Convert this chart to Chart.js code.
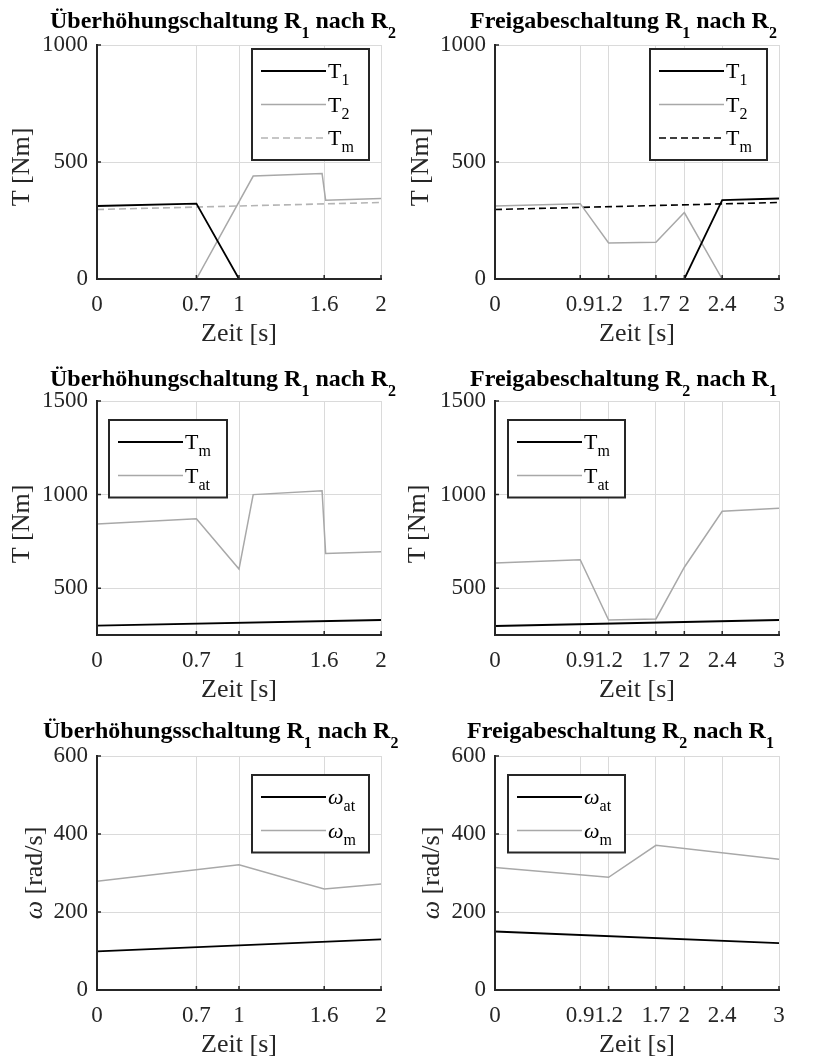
<!DOCTYPE html>
<html><head><meta charset="utf-8">
<script src="https://cdn.jsdelivr.net/npm/chart.js"></script>
<style>
html,body{margin:0;padding:0;background:#fff;width:813px;height:1060px;overflow:hidden}
canvas{position:absolute}
</style></head><body>
<canvas id="c1" style="left:0px;top:0px" width="406" height="349"></canvas>
<canvas id="c2" style="left:406px;top:0px" width="407" height="349"></canvas>
<canvas id="c3" style="left:0px;top:356px" width="406" height="349"></canvas>
<canvas id="c4" style="left:406px;top:356px" width="407" height="349"></canvas>
<canvas id="c5" style="left:0px;top:711px" width="406" height="349"></canvas>
<canvas id="c6" style="left:406px;top:711px" width="407" height="349"></canvas>
<script>
// ---------- tick values ----------
const xTicksA = [0, 0.7, 1, 1.6, 2];
const xTicksB = [0, 0.9, 1.2, 1.7, 2, 2.4, 3];
const yTicksT = [0, 500, 1000];
const yTicksTat = [500, 1000, 1500];
const yTicksW = [0, 200, 400, 600];

// ---------- plot 1: Überhöhungschaltung R1 nach R2 (T) ----------
const p1T1x = [0, 0.7, 1.0, 2.0];
const p1T1y = [312, 322, 0, 0];
const p1T2x = [0, 0.7, 1.1, 1.585, 1.61, 2.0];
const p1T2y = [0, 0, 440, 451, 337, 344];
const p1Tmx = [0, 2.0];
const p1Tmy = [297, 327];

// ---------- plot 2: Freigabeschaltung R1 nach R2 (T) ----------
const p2T1x = [0, 2.0, 2.4, 3.0];
const p2T1y = [0, 0, 337, 344];
const p2T2x = [0, 0.9, 1.2, 1.7, 2.0, 2.4, 3.0];
const p2T2y = [312, 322, 154, 157, 284, 0, 0];
const p2Tmx = [0, 3.0];
const p2Tmy = [297, 327];

// ---------- plot 3: Überhöhungschaltung R1 nach R2 (Tm, Tat) ----------
const p3Tmx = [0, 2.0];
const p3Tmy = [300, 330];
const p3Tatx = [0, 0.7, 1.0, 1.1, 1.585, 1.61, 2.0];
const p3Taty = [843, 871, 602, 1000, 1021, 686, 695];

// ---------- plot 4: Freigabeschaltung R2 nach R1 (Tm, Tat) ----------
const p4Tmx = [0, 3.0];
const p4Tmy = [298, 330];
const p4Tatx = [0, 0.9, 1.2, 1.7, 2.0, 2.4, 3.0];
const p4Taty = [634, 652, 330, 336, 612, 911, 927];

// ---------- plot 5: Überhöhungsschaltung R1 nach R2 (omega) ----------
const p5Watx = [0, 2.0];
const p5Waty = [99, 130];
const p5Wmx = [0, 1.0, 1.6, 2.0];
const p5Wmy = [279, 321, 259, 272];

// ---------- plot 6: Freigabeschaltung R2 nach R1 (omega) ----------
const p6Watx = [0, 3.0];
const p6Waty = [150, 120];
const p6Wmx = [0, 1.2, 1.7, 3.0];
const p6Wmy = [314, 289, 371, 335];

const FAM = '"Liberation Serif", "Times New Roman", serif';
Chart.defaults.font.family = FAM;
const GRAY = '#a8a8a8';
const AX = '#262626';

const titleBase = {size: 24, sub: 16, subDy: 10, bold: true};
const axisBase = {size: 26, sub: 18, subDy: 8, bold: false};
const legBase = {size: 22, sub: 16, subDy: 7, bold: false};

function segFont(s, b) {
  return (s.italic ? 'italic ' : '') + (b.bold ? 'bold ' : '') + (s.sub ? b.sub : b.size) + 'px ' + FAM;
}
function richWidth(ctx, segs, b) {
  let w = 0;
  for (const s of segs) { ctx.font = segFont(s, b); w += ctx.measureText(s.t).width; }
  return w;
}
function drawRich(ctx, segs, x, y, b) {
  ctx.textAlign = 'left'; ctx.textBaseline = 'alphabetic';
  for (const s of segs) {
    ctx.font = segFont(s, b);
    ctx.fillText(s.t, x, y + (s.sub ? b.subDy : 0));
    x += ctx.measureText(s.t).width;
  }
}

const deco = {
  id: 'deco',
  afterDatasetsDraw(chart) {
    const o = chart.options.plugins.deco;
    const ctx = chart.ctx, a = chart.chartArea;
    const xs = chart.scales.x, ys = chart.scales.y;
    ctx.save();
    ctx.strokeStyle = AX; ctx.lineWidth = 2; ctx.lineCap = 'square';
    ctx.beginPath();
    ctx.moveTo(a.left, a.top); ctx.lineTo(a.left, a.bottom); ctx.lineTo(a.right, a.bottom);
    ctx.stroke();
    ctx.lineWidth = 1.5; ctx.lineCap = 'butt';
    ctx.beginPath();
    xs.ticks.forEach(t => { const px = xs.getPixelForValue(t.value); ctx.moveTo(px, a.bottom); ctx.lineTo(px, a.bottom - 4); });
    ys.ticks.forEach(t => { const py = ys.getPixelForValue(t.value); ctx.moveTo(a.left, py); ctx.lineTo(a.left + 4, py); });
    ctx.stroke();
    // legend
    const L = o.legend, ds = chart.data.datasets, n = ds.length;
    const h = 44 + (n - 1) * 33.5;
    const bx = L.side === 'right' ? a.right - L.dx - L.w : a.left + L.dx;
    const by = a.top + L.dy;
    ctx.fillStyle = '#fff'; ctx.fillRect(bx, by, L.w, h);
    ctx.strokeStyle = AX; ctx.lineWidth = 2; ctx.strokeRect(bx, by, L.w, h);
    ds.forEach((d, i) => {
      const ry = by + 22 + i * 33.5;
      ctx.strokeStyle = d.borderColor; ctx.lineWidth = d.borderWidth;
      ctx.setLineDash(d.borderDash || []);
      ctx.beginPath(); ctx.moveTo(bx + 9, ry); ctx.lineTo(bx + 74, ry); ctx.stroke();
      ctx.setLineDash([]);
      ctx.fillStyle = '#000';
      drawRich(ctx, o.labels[i], bx + 76, ry + 7, legBase);
    });
    ctx.restore();
  },
  afterDraw(chart) {
    const o = chart.options.plugins.deco;
    const ctx = chart.ctx, a = chart.chartArea;
    ctx.save();
    ctx.fillStyle = '#000';
    drawRich(ctx, o.title, o.titleX, o.titleY, titleBase);
    ctx.fillStyle = AX;
    const xl = [{t: 'Zeit [s]'}];
    const xw = richWidth(ctx, xl, axisBase);
    drawRich(ctx, xl, (a.left + a.right) / 2 - xw / 2, a.bottom + 62, axisBase);
    const yw = richWidth(ctx, o.ylabel, axisBase);
    ctx.translate(o.ylabelX, (a.top + a.bottom) / 2 + o.ylabelDy);
    ctx.rotate(-Math.PI / 2);
    drawRich(ctx, o.ylabel, -yw / 2, 0.3 * axisBase.size, axisBase);
    ctx.restore();
  }
};

function pts(xs, ys) { return xs.map((x, i) => ({x: x, y: ys[i]})); }

function makeChart(id, c) {
  const datasets = c.series.map(s => ({
    label: s.name, data: pts(s.x, s.y), borderColor: s.color, borderWidth: s.w,
    borderDash: s.dash || [], pointRadius: 0, fill: false, tension: 0
  }));
  new Chart(document.getElementById(id), {
    type: 'line',
    data: {datasets: datasets},
    options: {
      responsive: false, animation: false, devicePixelRatio: 1,
      layout: {padding: {left: 0, right: c.padRight, top: 45, bottom: 0}},
      plugins: {
        legend: {display: false}, tooltip: {enabled: false}, title: {display: false},
        deco: {title: c.title, titleX: c.titleX, titleY: c.titleY, ylabel: c.ylabel,
               ylabelX: c.ylabelX, ylabelDy: c.ylabelDy, legend: c.legend,
               labels: c.series.map(s => s.label)}
      },
      scales: {
        x: {
          type: 'linear', min: c.xTicks[0], max: c.xTicks[c.xTicks.length - 1],
          afterBuildTicks: s => { s.ticks = c.xTicks.map(v => ({value: v})); },
          afterFit: s => { s.height = 70; },
          grid: {color: '#dadada', lineWidth: 1, drawTicks: false},
          border: {display: false},
          ticks: {autoSkip: false, maxRotation: 0, minRotation: 0, padding: 12,
                  font: {size: 23}, color: AX, callback: v => String(v)}
        },
        y: {
          type: 'linear', min: c.yMin, max: c.yTicks[c.yTicks.length - 1],
          afterBuildTicks: s => { s.ticks = c.yTicks.map(v => ({value: v})); },
          afterFit: s => { s.width = c.yWidth; },
          grid: {color: '#dadada', lineWidth: 1, drawTicks: false},
          border: {display: false},
          ticks: {autoSkip: false, padding: 9, font: {size: 23}, color: AX, callback: v => String(v)}
        }
      }
    },
    plugins: [deco]
  });
}

const T1 = [{t: 'T'}, {t: '1', sub: true}];
const T2 = [{t: 'T'}, {t: '2', sub: true}];
const Tm = [{t: 'T'}, {t: 'm', sub: true}];
const Tat = [{t: 'T'}, {t: 'at', sub: true}];
const Wat = [{t: 'ω', italic: true}, {t: 'at', sub: true}];
const Wm = [{t: 'ω', italic: true}, {t: 'm', sub: true}];
const yT = [{t: 'T [Nm]'}];
const yW = [{t: 'ω', italic: true}, {t: ' [rad/s]'}];
function ttl(a, b, c) { return [{t: a + ' R'}, {t: b, sub: true}, {t: ' nach R'}, {t: c, sub: true}]; }

const LEFT = {padRight: 25, yWidth: 97};
const RIGHT = {padRight: 34, yWidth: 89};

makeChart('c1', Object.assign({}, LEFT, {
  xTicks: xTicksA, yTicks: yTicksT, yMin: 0,
  title: ttl('Überhöhungschaltung', '1', '2'), titleX: 50, titleY: 28,
  ylabel: yT, ylabelX: 21, ylabelDy: 5,
  legend: {side: 'right', dx: 12, dy: 4, w: 117},
  series: [
    {name: 'T1', label: T1, x: p1T1x, y: p1T1y, color: '#000', w: 1.8},
    {name: 'T2', label: T2, x: p1T2x, y: p1T2y, color: GRAY, w: 1.5},
    {name: 'Tm', label: Tm, x: p1Tmx, y: p1Tmy, color: '#b4b4b4', w: 1.6, dash: [7, 4]}
  ]
}));
makeChart('c2', Object.assign({}, RIGHT, {
  xTicks: xTicksB, yTicks: yTicksT, yMin: 0,
  title: ttl('Freigabeschaltung', '1', '2'), titleX: 64, titleY: 28,
  ylabel: yT, ylabelX: 14, ylabelDy: 5,
  legend: {side: 'right', dx: 12, dy: 4, w: 117},
  series: [
    {name: 'T1', label: T1, x: p2T1x, y: p2T1y, color: '#000', w: 1.8},
    {name: 'T2', label: T2, x: p2T2x, y: p2T2y, color: GRAY, w: 1.5},
    {name: 'Tm', label: Tm, x: p2Tmx, y: p2Tmy, color: '#000', w: 1.6, dash: [7, 4]}
  ]
}));
makeChart('c3', Object.assign({}, LEFT, {
  xTicks: xTicksA, yTicks: yTicksTat, yMin: 250,
  title: ttl('Überhöhungschaltung', '1', '2'), titleX: 50, titleY: 30,
  ylabel: yT, ylabelX: 21, ylabelDy: 6,
  legend: {side: 'left', dx: 12, dy: 19, w: 118},
  series: [
    {name: 'Tm', label: Tm, x: p3Tmx, y: p3Tmy, color: '#000', w: 1.8},
    {name: 'Tat', label: Tat, x: p3Tatx, y: p3Taty, color: GRAY, w: 1.5}
  ]
}));
makeChart('c4', Object.assign({}, RIGHT, {
  xTicks: xTicksB, yTicks: yTicksTat, yMin: 250,
  title: ttl('Freigabeschaltung', '2', '1'), titleX: 64, titleY: 30,
  ylabel: yT, ylabelX: 11, ylabelDy: 6,
  legend: {side: 'left', dx: 13, dy: 19, w: 117},
  series: [
    {name: 'Tm', label: Tm, x: p4Tmx, y: p4Tmy, color: '#000', w: 1.8},
    {name: 'Tat', label: Tat, x: p4Tatx, y: p4Taty, color: GRAY, w: 1.5}
  ]
}));
makeChart('c5', Object.assign({}, LEFT, {
  xTicks: xTicksA, yTicks: yTicksW, yMin: 0,
  title: ttl('Überhöhungsschaltung', '1', '2'), titleX: 43, titleY: 27,
  ylabel: yW, ylabelX: 34, ylabelDy: 0,
  legend: {side: 'right', dx: 12, dy: 19, w: 117},
  series: [
    {name: 'wat', label: Wat, x: p5Watx, y: p5Waty, color: '#000', w: 1.8},
    {name: 'wm', label: Wm, x: p5Wmx, y: p5Wmy, color: GRAY, w: 1.5}
  ]
}));
makeChart('c6', Object.assign({}, RIGHT, {
  xTicks: xTicksB, yTicks: yTicksW, yMin: 0,
  title: ttl('Freigabeschaltung', '2', '1'), titleX: 61, titleY: 27,
  ylabel: yW, ylabelX: 25, ylabelDy: 0,
  legend: {side: 'left', dx: 13, dy: 19, w: 117},
  series: [
    {name: 'wat', label: Wat, x: p6Watx, y: p6Waty, color: '#000', w: 1.8},
    {name: 'wm', label: Wm, x: p6Wmx, y: p6Wmy, color: GRAY, w: 1.5}
  ]
}));
</script>
</body></html>
